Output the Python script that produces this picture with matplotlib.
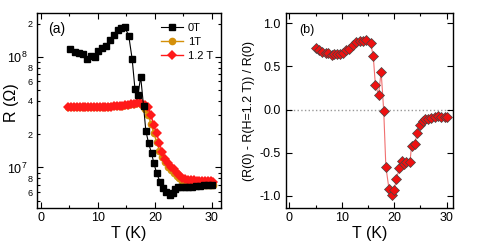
import numpy as np
from matplotlib import pyplot as plt
from matplotlib import ticker

plt.rcParams['font.family'] = ['Liberation Sans', 'DejaVu Sans']
plt.rcParams['mathtext.fontset'] = 'custom'
plt.rcParams['mathtext.rm'] = 'Liberation Sans'

# panel (a): R(T) at 0 T
T0 = [5.1, 5.9, 6.7, 7.4, 8.0, 8.7, 9.4, 10.0, 10.7, 11.4, 12.1, 12.8, 13.5, 14.1,
      14.7, 15.4, 16.0, 16.5, 17.0, 17.5, 18.0, 18.4, 18.9, 19.4, 19.8, 20.3, 20.9,
      21.5, 22.0, 22.6, 23.1, 23.6, 24.1, 24.6, 25.2, 25.8, 26.5, 27.2, 27.9, 28.6,
      29.3, 30.0]
R0 = [1.18e8, 1.10e8, 1.08e8, 1.06e8, 0.95e8, 1.02e8, 1.00e8, 1.14e8, 1.20e8, 1.25e8,
      1.42e8, 1.58e8, 1.75e8, 1.82e8, 1.86e8, 1.56e8, 0.96e8, 5.1e7, 4.5e7, 6.6e7,
      3.6e7, 2.15e7, 1.65e7, 1.35e7, 1.1e7, 8.9e6, 7.4e6, 6.5e6, 6.0e6, 5.6e6, 5.9e6,
      6.4e6, 6.6e6, 6.7e6, 6.6e6, 6.6e6, 6.7e6, 6.8e6, 6.8e6, 6.9e6, 6.9e6, 6.9e6]

# 1 T and 1.2 T share the same temperature grid
T1 = [4.8, 5.3, 5.8, 6.3, 6.8, 7.3, 7.8, 8.3, 8.8, 9.3, 9.8, 10.3, 10.8, 11.3, 11.8,
      12.3, 12.8, 13.3, 13.8, 14.3, 14.8, 15.3, 15.8, 16.3, 16.8, 17.3, 17.8, 18.3,
      18.8, 19.3, 19.8, 20.3, 20.8, 21.3, 21.8, 22.3, 22.8, 23.3, 23.8, 24.3, 24.8,
      25.3, 25.8, 26.3, 26.8, 27.3, 27.8, 28.3, 28.8, 29.3, 29.8, 30.2]
R1T = [3.55e7, 3.55e7, 3.55e7, 3.55e7, 3.55e7, 3.55e7, 3.55e7, 3.55e7, 3.55e7, 3.55e7,
       3.55e7, 3.55e7, 3.55e7, 3.55e7, 3.55e7, 3.57e7, 3.58e7, 3.58e7, 3.6e7, 3.62e7,
       3.65e7, 3.68e7, 3.72e7, 3.78e7, 3.85e7, 3.85e7, 3.7e7, 3.4e7, 3.0e7, 2.5e7,
       2.05e7, 1.7e7, 1.42e7, 1.25e7, 1.12e7, 1.02e7, 9.5e6, 8.9e6, 8.4e6, 8.0e6,
       7.6e6, 7.35e6, 7.2e6, 7.1e6, 7.05e6, 7.0e6, 7.0e6, 7.0e6, 7.0e6, 7.0e6, 7.0e6,
       7.0e6]
R12T = [3.55e7, 3.55e7, 3.55e7, 3.55e7, 3.55e7, 3.55e7, 3.55e7, 3.55e7, 3.55e7, 3.55e7,
        3.55e7, 3.55e7, 3.55e7, 3.55e7, 3.55e7, 3.56e7, 3.57e7, 3.58e7, 3.6e7, 3.62e7,
        3.65e7, 3.68e7, 3.72e7, 3.78e7, 3.82e7, 3.82e7, 3.78e7, 3.7e7, 3.5e7, 3.0e7,
        2.4e7, 2.05e7, 1.65e7, 1.38e7, 1.2e7, 1.1e7, 1.02e7, 9.6e6, 9.0e6, 8.5e6, 8.1e6,
        7.9e6, 7.75e6, 7.7e6, 7.65e6, 7.6e6, 7.6e6, 7.55e6, 7.5e6, 7.5e6, 7.5e6, 7.45e6]

# panel (b): (R(0) - R(1.2 T)) / R(0)
Tb = [5.1, 5.7, 6.3, 7.0, 7.4, 8.1, 8.6, 9.1, 9.7, 10.2, 10.8, 11.4, 12.1, 12.8, 13.5,
      14.1, 14.7, 15.5, 16.0, 16.4, 17.0, 17.5, 18.0, 18.4, 19.0, 19.5, 20.0, 20.4, 21.0,
      21.4, 21.9, 22.3, 23.0, 23.3, 23.9, 24.4, 24.9, 25.4, 25.8, 26.5, 27.1, 27.7, 28.4,
      29.0, 29.6, 30.0]
MR = [0.71, 0.69, 0.67, 0.66, 0.66, 0.63, 0.64, 0.65, 0.64, 0.66, 0.69, 0.70, 0.75,
      0.78, 0.79, 0.80, 0.81, 0.77, 0.62, 0.29, 0.17, 0.44, -0.02, -0.66, -0.92, -0.99,
      -0.93, -0.80, -0.68, -0.60, -0.63, -0.61, -0.61, -0.42, -0.40, -0.27, -0.18, -0.13,
      -0.11, -0.11, -0.10, -0.08, -0.07, -0.09, -0.09, -0.09]

fig = plt.figure(figsize=(4.85, 2.52), dpi=100)
ax1 = fig.add_axes([0.0763, 0.1746, 0.3794, 0.7738])
ax2 = fig.add_axes([0.589, 0.1746, 0.345, 0.7738])

ax1.plot(T0, R0, '-s', color='black', ms=4.5, lw=0.8, label='0T', zorder=4)
ax1.plot(T1, R1T, '-o', color='#d4900a', ms=4.5, lw=1.0, label='1T', zorder=2)
ax1.plot(T1, R12T, '-D', color='#ff1a1a', ms=5, lw=1.0, mew=0, label='1.2 T', zorder=3)
ax1.set_yscale('log')
ax1.set_xlim(-0.7, 31.6)
ax1.set_ylim(4.3e6, 2.5e8)
ax1.yaxis.set_major_locator(ticker.FixedLocator([1e7, 1e8]))
ax1.yaxis.set_minor_locator(ticker.FixedLocator(
    [5e6, 6e6, 7e6, 8e6, 9e6, 2e7, 3e7, 4e7, 5e7, 6e7, 7e7, 8e7, 9e7, 2e8]))

def minor_fmt(v, pos):
    m = int(round(v / 10 ** np.floor(np.log10(v))))
    return str(m) if m in (2, 4, 6, 8) else ''

ax1.yaxis.set_minor_formatter(ticker.FuncFormatter(minor_fmt))
ax1.set_xlabel('T (K)', fontsize=11.5, labelpad=1)
ax1.set_ylabel('R (Ω)', fontsize=11.5)
ax1.yaxis.set_label_coords(-0.10, 0.54)
ax1.text(0.06, 0.9, '(a)', transform=ax1.transAxes, fontsize=10)
ax1.legend(loc='upper right', frameon=False, fontsize=8, handlelength=2.0,
           handletextpad=0.4, labelspacing=0.35, borderaxespad=0.5,
           bbox_to_anchor=(1.01, 1.0))

ax2.axhline(0, color='#999999', ls=':', lw=1, zorder=1)
ax2.plot(Tb, MR, '-D', color='#f07070', mfc='#ee1111', mec='#444444', mew=0.5,
         ms=5, lw=0.8, zorder=3)
ax2.set_xlim(-0.7, 31.2)
ax2.set_ylim(-1.14, 1.12)
ax2.yaxis.set_major_locator(ticker.MultipleLocator(0.5))
ax2.yaxis.set_major_formatter(ticker.FormatStrFormatter('%.1f'))
ax2.set_xlabel('T (K)', fontsize=11.5, labelpad=1)
ax2.set_ylabel('(R(0) - R(H=1.2 T)) / R(0)', fontsize=9, labelpad=3)
ax2.text(0.08, 0.9, '(b)', transform=ax2.transAxes, fontsize=9)

for ax in (ax1, ax2):
    ax.xaxis.set_major_locator(ticker.MultipleLocator(10))
    ax.xaxis.set_minor_locator(ticker.MultipleLocator(5))
    ax.tick_params(which='both', direction='in', top=True, right=True, width=0.8)
    ax.tick_params(which='major', length=4)
    ax.tick_params(which='minor', length=2.5)
    ax.tick_params(axis='x', labelsize=9, pad=3)
    for s in ax.spines.values():
        s.set_linewidth(1.0)
ax2.tick_params(axis='y', labelsize=9)
ax1.tick_params(axis='y', which='minor', labelsize=6.5, pad=3)
ax1.tick_params(axis='y', which='major', labelsize=9, pad=7)

plt.savefig('out.png', dpi=100)
